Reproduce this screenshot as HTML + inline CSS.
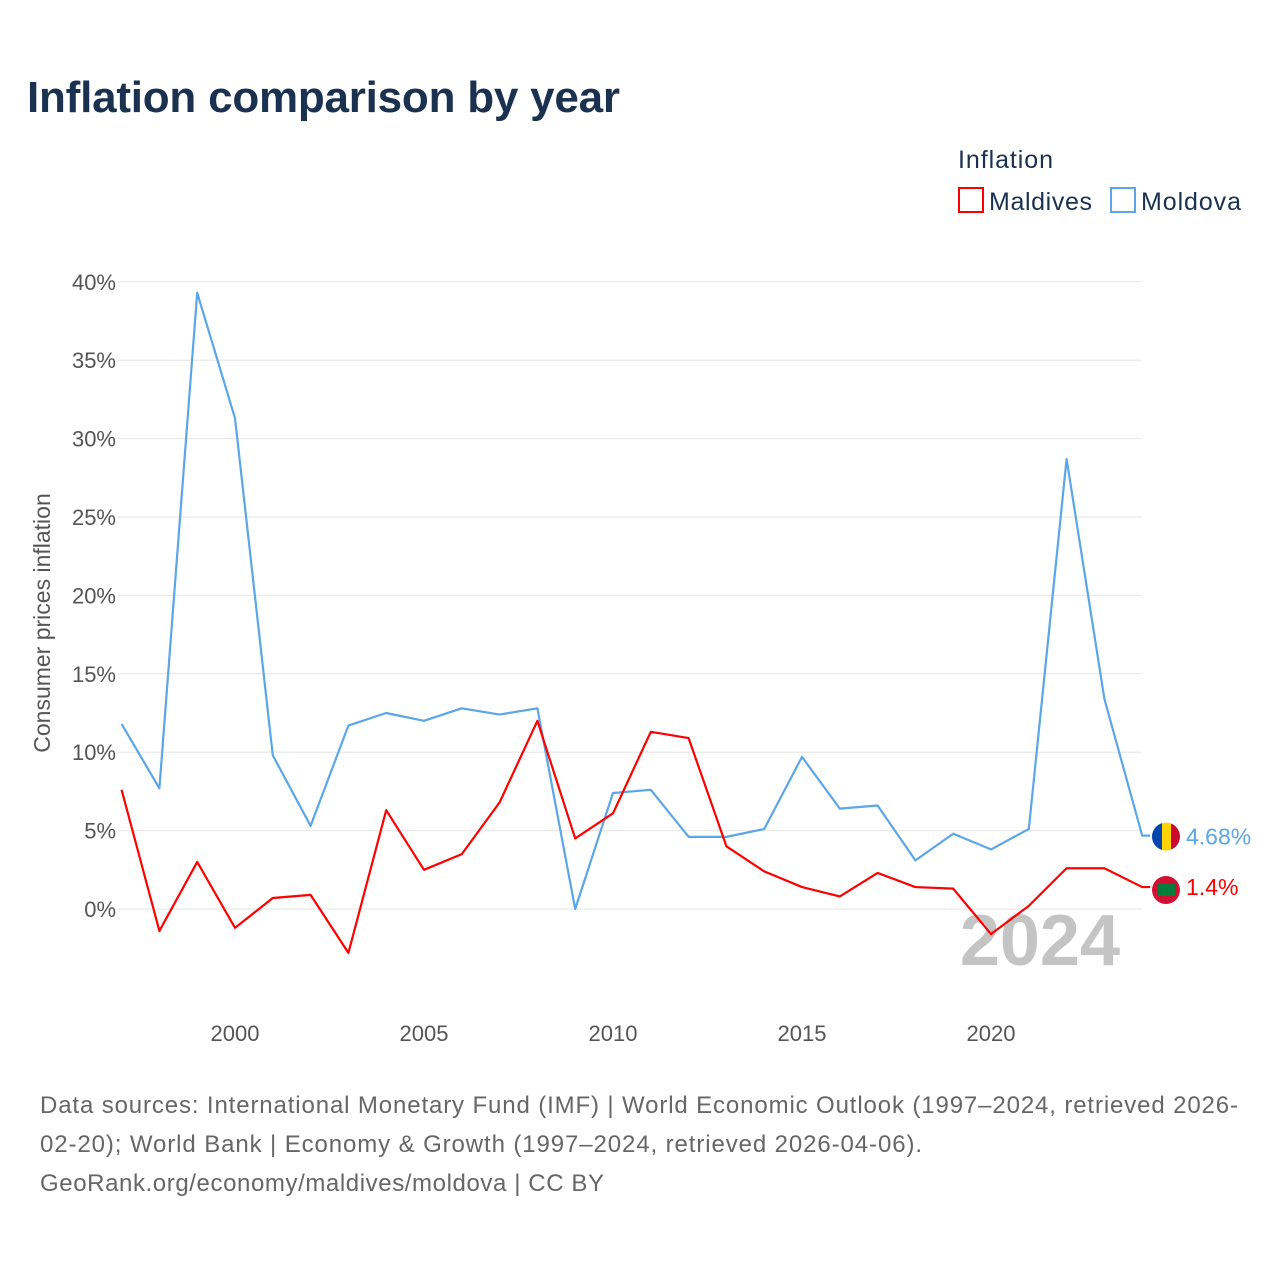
<!DOCTYPE html>
<html><head><meta charset="utf-8"><style>
body{margin:0;background:#fff;font-family:"Liberation Sans",sans-serif;}
svg text{font-family:"Liberation Sans",sans-serif;}
</style></head><body>
<svg id="c" width="1280" height="1280" xmlns="http://www.w3.org/2000/svg">
<defs><clipPath id="fc"><circle cx="1166" cy="0" r="14" id="fcc"/></clipPath></defs>
<rect width="1280" height="1280" fill="#fff"/>
<text x="27" y="112" font-size="44" font-weight="bold" fill="#1b3150" textLength="593">Inflation comparison by year</text>
<text x="958" y="168" font-size="25" fill="#1b3150" textLength="95">Inflation</text>
<g><rect x="959" y="188" width="24" height="24" fill="none" stroke="#f00" stroke-width="2"/><text x="989" y="210" font-size="25" fill="#1b3150" textLength="103">Maldives</text></g>
<g><rect x="1111" y="188" width="24" height="24" fill="none" stroke="#5aa6e8" stroke-width="2"/><text x="1141" y="210" font-size="25" fill="#1b3150" textLength="100">Moldova</text></g>
<g id="grid"></g><g id="yt"></g><g id="xt"></g>
<text transform="translate(50,623) rotate(-90)" text-anchor="middle" font-size="23" fill="#555">Consumer prices inflation</text>
<text x="1120" y="965" text-anchor="end" font-size="72" font-weight="bold" fill="#c4c4c4">2024</text>
<g id="lines"></g>
<text x="40" y="1113" font-size="24" fill="#666" textLength="1198">Data sources: International Monetary Fund (IMF) | World Economic Outlook (1997–2024, retrieved 2026-</text>
<text x="40" y="1152" font-size="24" fill="#666" textLength="882">02-20); World Bank | Economy &amp; Growth (1997–2024, retrieved 2026-04-06).</text>
<text x="40" y="1191" font-size="24" fill="#666" textLength="564">GeoRank.org/economy/maldives/moldova | CC BY</text>
</svg>
<script>
const years=[1997,1998,1999,2000,2001,2002,2003,2004,2005,2006,2007,2008,2009,2010,2011,2012,2013,2014,2015,2016,2017,2018,2019,2020,2021,2022,2023,2024];
const moldova=[11.8,7.7,39.3,31.3,9.8,5.3,11.7,12.5,12.0,12.8,12.4,12.8,0.0,7.4,7.6,4.6,4.6,5.1,9.7,6.4,6.6,3.1,4.8,3.8,5.1,28.7,13.4,4.68];
const maldives=[7.6,-1.4,3.0,-1.2,0.7,0.9,-2.8,6.3,2.5,3.5,6.8,12.0,4.5,6.1,11.3,10.9,4.0,2.4,1.4,0.8,2.3,1.4,1.3,-1.6,0.2,2.6,2.6,1.4];
const yTicks=[0,5,10,15,20,25,30,35,40];
const xTicks=[2000,2005,2010,2015,2020];
const NS="http://www.w3.org/2000/svg";
const X=y=>121.6+(y-1997)*37.8, Y=v=>909-v*15.68;
function mk(t,a,p){const e=document.createElementNS(NS,t);for(const k in a)e.setAttribute(k,a[k]);document.getElementById(p).appendChild(e);return e;}
yTicks.forEach(v=>{
 const l=mk('line',{x1:118,x2:1142,y1:Y(v),y2:Y(v),stroke:'#e6e6e6','stroke-width':1},'grid');
 
 
 const t=mk('text',{x:116,y:Y(v)+8,'text-anchor':'end','font-size':22,fill:'#555'},'yt');t.textContent=v+'%';
 
 
});
xTicks.forEach(v=>{
 const t=mk('text',{x:X(v),y:1041,'text-anchor':'middle','font-size':22,fill:'#555'},'xt');t.textContent=v;
 
 
});
function series(d,c,name){
 let pts=d.map((v,i)=>X(years[i])+','+Y(v));pts.push((X(years[years.length-1])+8)+','+Y(d[d.length-1]));
 const p=mk('polyline',{points:pts.join(' '),fill:'none',stroke:c,'stroke-width':2.2,'stroke-linejoin':'round'},'lines');
 
 
}
series(moldova,'#5aa6e8','moldova');series(maldives,'#f00','maldives');
const lm=moldova[moldova.length-1], lv=maldives[maldives.length-1];
document.getElementById('fcc').setAttribute('cy',Y(lm)+1);
const f1=mk('g',{'clip-path':'url(#fc)'},'lines');


mk('rect',{x:1152,y:Y(lm)-14,width:10,height:30,fill:'#0046ae'},'lines');
mk('rect',{x:1162,y:Y(lm)-14,width:9,height:30,fill:'#ffd200'},'lines');
mk('rect',{x:1171,y:Y(lm)-14,width:10,height:30,fill:'#cc092f'},'lines');
const lines=document.getElementById('lines');
const rs=[...lines.querySelectorAll('rect')].slice(-3);rs.forEach(r=>f1.appendChild(r));
const t1=mk('text',{x:1186,y:Y(lm)+9,'font-size':23,fill:'#5aa6e8'},'lines');t1.textContent=lm+'%';


mk('circle',{cx:1166,cy:Y(lv)+3,r:14,fill:'#d21034'},'lines');
mk('rect',{x:1157,y:Y(lv)-3,width:18,height:12,fill:'#007e3a'},'lines');
const t2=mk('text',{x:1186,y:Y(lv)+8,'font-size':23,fill:'#f00'},'lines');t2.textContent=lv+'%';


</script>
</body></html>
